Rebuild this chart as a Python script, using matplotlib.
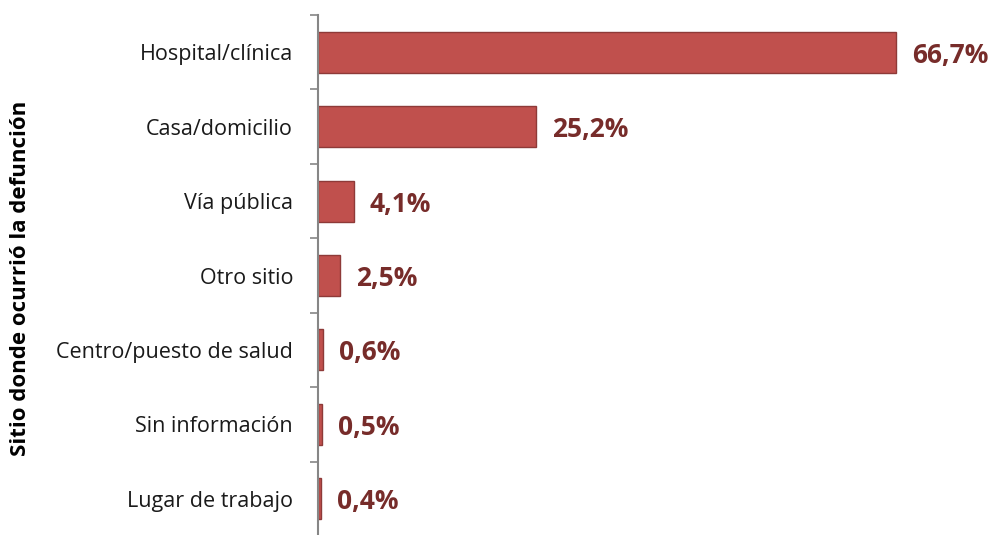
import matplotlib
matplotlib.use("Agg")
import matplotlib.pyplot as plt

categories = ["Hospital/clínica", "Casa/domicilio", "Vía pública", "Otro sitio",
              "Centro/puesto de salud", "Sin información", "Lugar de trabajo"]
values = [66.7, 25.2, 4.1, 2.5, 0.6, 0.5, 0.4]
value_labels = ["66,7%", "25,2%", "4,1%", "2,5%", "0,6%", "0,5%", "0,4%"]
ylabel = "Sitio donde ocurrió la defunción"

plt.rcParams['font.family'] = ['Open Sans', 'DejaVu Sans']

fig = plt.figure(figsize=(9.9, 5.35), dpi=100)
W, H = 990, 535
left, right, top, bottom = 318, 970, 15, 536
ax = fig.add_axes([left / W, 1 - bottom / H, (right - left) / W, (bottom - top) / H])

px_per_unit = 578 / 66.7
xmax = (right - left) / px_per_unit

n = len(categories)
ypos = list(range(n))
ax.barh(ypos, values, height=0.55, color="#C0504D", edgecolor="#8E3A38", linewidth=1.0)
ax.set_xlim(0, xmax)
ax.set_ylim(n - 0.5, -0.5)

for y, v, lab in zip(ypos, values, value_labels):
    ax.annotate(lab, (v, y), xytext=(16, -3), textcoords="offset pixels",
                va="center", ha="left", fontsize=19, fontweight="bold", color="#772C2A")

ax.set_yticks(ypos)
ax.set_yticklabels(categories, fontsize=15.5, color="#1A1A1A")
ax.set_yticks([i - 0.5 for i in range(n + 1)], minor=True)
ax.tick_params(axis="y", which="major", length=0, pad=18)
ax.tick_params(axis="y", which="minor", length=6, width=1.2, color="#868686")
ax.set_xticks([])
for s in ["top", "right", "bottom"]:
    ax.spines[s].set_visible(False)
ax.spines["left"].set_color("#868686")
ax.spines["left"].set_linewidth(1.5)

fig.text(21 / W, 1 - 278 / H, ylabel, rotation=90, va="center", ha="center",
         fontsize=16, fontweight="bold", color="#000000")

fig.savefig("out.png", dpi=100)
